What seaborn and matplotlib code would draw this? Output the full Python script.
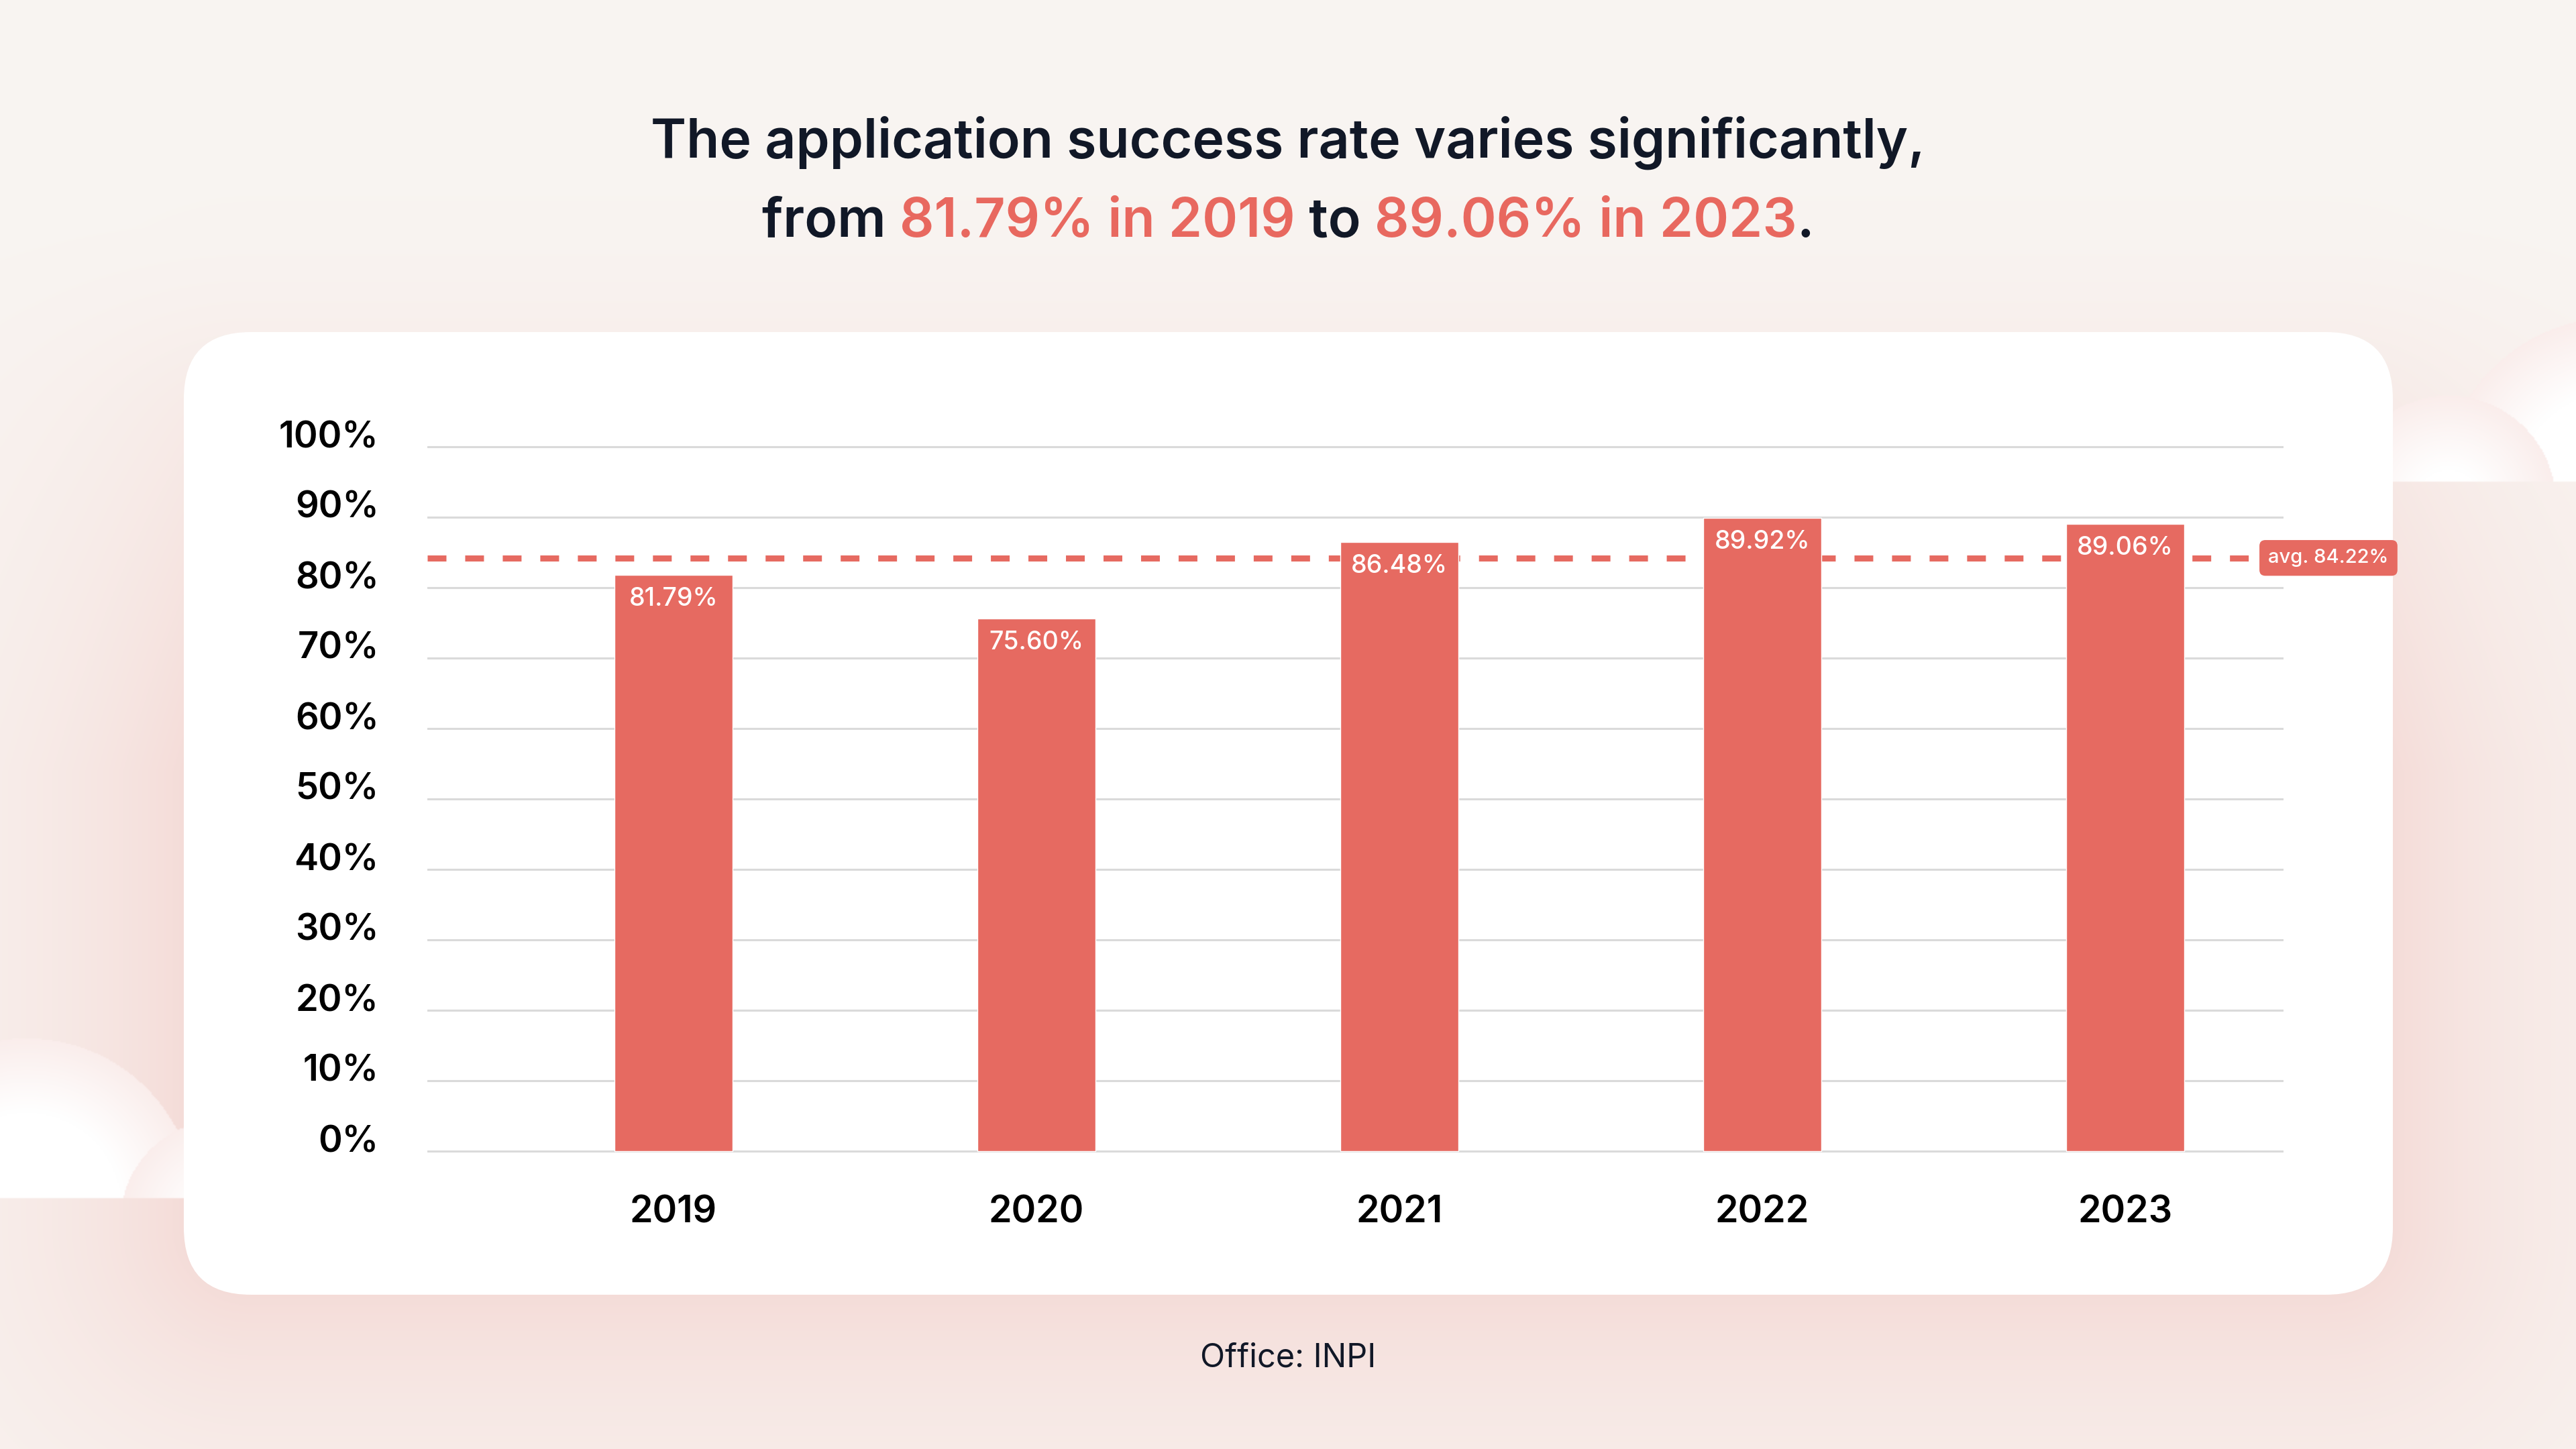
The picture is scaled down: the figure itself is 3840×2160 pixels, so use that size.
import numpy as np
import pandas as pd
import seaborn as sns
import matplotlib.pyplot as plt
from matplotlib.patches import FancyBboxPatch
from matplotlib.transforms import blended_transform_factory, ScaledTranslation

# Chart data
years = ['2019', '2020', '2021', '2022', '2023']
success_rate = [81.79, 75.60, 86.48, 89.92, 89.06]
bar_labels = ['81.79%', '75.60%', '86.48%', '89.92%', '89.06%']
average_rate = 84.22
y_ticks = [0, 10, 20, 30, 40, 50, 60, 70, 80, 90, 100]
y_tick_labels = ['0%', '10%', '20%', '30%', '40%', '50%', '60%', '70%', '80%', '90%', '100%']

title_line1 = 'The application success rate varies significantly,'
title_line2 = ['from ', '81.79% in 2019', ' to ', '89.06% in 2023', '.']
title_line2_red = [False, True, False, True, False]
source_text = 'Office: INPI'

# Colours
RED = '#E66A61'
TITLE_RED = '#E8685F'
DARK = '#111827'
GRID = '#DADADA'

sns.set_theme(style='white')
plt.rcParams['font.family'] = ['Inter', 'DejaVu Sans']

W, H = 3840, 2160
fig = plt.figure(figsize=(W / 100, H / 100), dpi=100)

# ---- background (cream with pink glow around the card and two soft blobs)
step = 2
xs = np.arange(0, W, step) + step / 2
ys = np.arange(0, H, step) + step / 2
X, Y = np.meshgrid(xs, ys)

card_x0, card_y0, card_x1, card_y1, card_r = 274, 495, 3567, 1930, 100

def rect_dist(x0, y0, x1, y1, r):
    cx = np.clip(X, x0 + r, x1 - r)
    cy = np.clip(Y, y0 + r, y1 - r)
    return np.maximum(np.hypot(X - cx, Y - cy) - r, 0)

base = np.array([249, 245, 242]) / 255
pink = np.array([244, 216, 212]) / 255
d = rect_dist(card_x0, card_y0 + 40, card_x1, card_y1, card_r)
ramp = np.clip((Y - 250) / 900, 0.1, 1.0)
w = 0.85 * np.exp(-d / 260) * ramp
img = base[None, None, :] * (1 - w[..., None]) + pink[None, None, :] * w[..., None]

def blob(cx, cy, r, ybot):
    dist = np.hypot(X - cx, Y - cy)
    inside = (dist < r) & (Y < ybot)
    e = np.clip((dist - (r - 110)) / 110, 0, 1) * 0.45
    col = np.ones(3)[None, None, :] * (1 - e[..., None]) + pink[None, None, :] * e[..., None]
    img[inside] = col[inside]

blob(40, 1800, 252, 1786)
blob(330, 1820, 150, 1786)
blob(3900, 735, 262, 718)
blob(3650, 750, 160, 718)

bg = fig.add_axes([0, 0, 1, 1], zorder=0)
bg.imshow(img, extent=[0, W, H, 0], interpolation='bilinear')
bg.set_xlim(0, W)
bg.set_ylim(H, 0)
bg.set_aspect('auto')
bg.axis('off')

card = FancyBboxPatch((card_x0, card_y0), card_x1 - card_x0, card_y1 - card_y0,
                      boxstyle='round,pad=0,rounding_size=100',
                      fc='white', ec='none', zorder=2)
bg.add_patch(card)

# ---- title
title_kw = dict(fontsize=58, fontweight='semibold', va='baseline')
bg.text(W / 2, 235, title_line1, ha='center', color=DARK, zorder=3, **title_kw)

renderer = fig.canvas.get_renderer()

def text_width(s):
    t = bg.text(0, 0, s, **title_kw)
    wdt = t.get_window_extent(renderer).width
    t.remove()
    return wdt

total = text_width(''.join(title_line2))
x_start = W / 2 - total / 2
ref = text_width('I')
for k, (piece, is_red) in enumerate(zip(title_line2, title_line2_red)):
    prefix = ''.join(title_line2[:k])
    offset = text_width(prefix + 'I') - ref if prefix else 0
    bg.text(x_start + offset, 353, piece, ha='left',
            color=TITLE_RED if is_red else DARK, zorder=3, **title_kw)

bg.text(W / 2, 2038, source_text, ha='center', va='baseline',
        fontsize=35, color=DARK, zorder=3)

# ---- bar chart
ax = fig.add_axes([637 / W, 1 - 1737 / H, (3404 - 637) / W, 1092 / H], zorder=3)
ax.patch.set_alpha(0)

df = pd.DataFrame({'year': years, 'rate': success_rate})
sns.barplot(data=df, x='year', y='rate', color=RED, saturation=1,
            width=0.325, ax=ax, zorder=3)

ax.set_xlim(-0.678, 4.436)
ax.set_ylim(-2, 102)
ax.set_yticks(y_ticks)
ax.set_yticklabels(y_tick_labels, fontsize=39, fontweight='semibold', color='black')
ax.set_xticks(range(len(years)))
ax.set_xticklabels(years, fontsize=40, fontweight='semibold', color='black')
ax.tick_params(axis='y', length=0, pad=52)
ax.tick_params(axis='x', length=0, pad=32)
ax.set_xlabel('')
ax.set_ylabel('')
for spine in ax.spines.values():
    spine.set_visible(False)

ax.set_axisbelow(True)
ax.yaxis.grid(True, color=GRID, lw=2.2)
ax.xaxis.grid(False)

ax.axhline(average_rate, color=RED, lw=6.5, linestyle=(0, (3.1, 3.1)), zorder=2)

for i, (v, lab) in enumerate(zip(success_rate, bar_labels)):
    ax.annotate(lab, xy=(i, v), xytext=(0, -26), textcoords='offset points',
                ha='center', va='center', color='white', fontsize=27,
                fontweight='medium', zorder=5)

tr = blended_transform_factory(ax.transAxes, ax.transData)
ax.text(1.0242, average_rate, f'avg. {average_rate:.2f}%', transform=tr,
        ha='center', va='center', fontsize=21, color='white', fontweight='medium',
        bbox=dict(boxstyle='round,pad=0.45,rounding_size=0.3', fc=RED, ec='none'),
        zorder=6, clip_on=False)

# y labels sit a little above their gridlines
lift = ScaledTranslation(0, 0.19, fig.dpi_scale_trans)
for lbl in ax.get_yticklabels():
    lbl.set_transform(lbl.get_transform() + lift)

fig.savefig('out.png', dpi=100)
